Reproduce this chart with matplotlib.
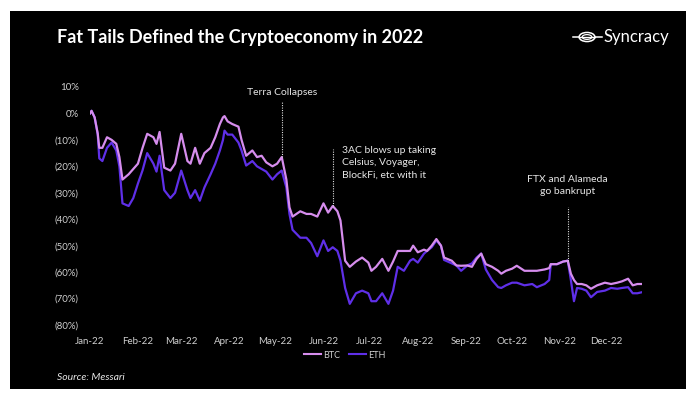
# plot.py

import pandas as pd
import matplotlib
matplotlib.use("Agg")
import matplotlib.pyplot as plt
from matplotlib.patches import Rectangle, Circle, Ellipse
from matplotlib.lines import Line2D


# ============================================================
# CONFIG
# ============================================================
W, H = 686, 396
DPI = 100
FONT = "Lato"
BTC_COLOR = "#d68ded"
ETH_COLOR = "#5f2fe8"
TEXT_COLOR = "#e6e6e6"
TICK_COLOR = "#cfcfcf"
DOT_STYLE = dict(color="#dddddd", lw=0.8, ls=(0, (1, 1.2)), zorder=5)


# ============================================================
# DATA (day of 2022, cumulative return in %)
# ============================================================
days = [0, 1, 3, 5, 6, 8, 11, 14, 17, 19, 21, 25, 28, 31, 34, 37, 41, 43, 45, 48,
        52, 55, 59, 63, 65, 68, 71, 74, 78, 81, 84, 86, 87, 89, 92, 96, 98, 101, 105, 108,
        111, 114, 118, 121, 124, 127, 129, 131, 136, 140, 143, 147, 151, 154, 157, 160, 162, 165, 168, 172,
        176, 180, 182, 185, 189, 193, 196, 199, 203, 207, 209, 212, 216, 218, 221, 224, 227, 229, 234, 237,
        240, 244, 247, 250, 253, 256, 260, 264, 266, 269, 273, 276, 281, 286, 289, 294, 297, 298, 302, 306,
        309, 311, 313, 315, 318, 321, 324, 328, 333, 337, 341, 344, 348, 351, 354, 357]

btc = [0, 1, -1.5, -7.6, -13, -13, -9, -10, -11.5, -16.5, -25, -23, -21, -19, -13, -7.7, -9, -11.5, -7, -20.5,
       -21.6, -19, -7.7, -18, -19, -13, -19, -15, -13, -9, -4, -1.5, -1, -3, -4, -5, -10, -16, -14, -16.5,
       -16, -18.5, -20, -19, -16.5, -25, -35.5, -39, -37, -38, -38, -39, -34, -37.5, -35, -37, -40.5, -55.7, -58, -56,
       -54.5, -56.4, -59.5, -58, -55, -59.5, -56, -52, -52, -52, -50, -52.5, -51.5, -52, -50, -47.5, -50, -54.5, -55.7, -57.5,
       -57.6, -57.5, -58, -55, -53, -57, -58, -59.5, -60.6, -59.5, -58.7, -57.6, -59.5, -59.5, -59.5, -59, -58.5, -57, -57, -56,
       -55.7, -60.6, -63, -64.5, -64.5, -65, -66.3, -65, -64, -64.5, -64, -63.5, -62.5, -65, -64.5, -64.5]

eth = [0, 1, -1.5, -8, -17, -18, -13, -11, -14, -20, -34, -35, -32, -26.5, -21.5, -15, -19, -22, -16, -29,
       -32, -30, -21.6, -29, -32, -29, -33, -28, -23, -19, -14, -10, -6.5, -8, -8, -11, -14, -19.7, -18, -20,
       -21, -22, -25, -23, -21.6, -28, -38, -44, -47, -47, -49, -54, -48, -52, -50.6, -52, -55.7, -66, -72, -68,
       -67, -68, -71, -71, -68, -72, -67, -58, -59.5, -55.7, -55, -56.4, -53, -52, -50.6, -48, -50, -55.4, -56.7, -57.5,
       -59.5, -57.5, -56.7, -54.5, -53, -59, -63, -65.7, -66, -65, -64, -64, -65, -64.5, -65.7, -64.5, -63, -57, -57, -56,
       -55.7, -63, -71, -66, -66.3, -67, -69.5, -67.5, -67, -66, -66.3, -66, -65.7, -68, -68, -67.6]

month_labels = ["Jan-22", "Feb-22", "Mar-22", "Apr-22", "May-22", "Jun-22",
                "Jul-22", "Aug-22", "Sep-22", "Oct-22", "Nov-22", "Dec-22"]
y_ticks = [10, 0, -10, -20, -30, -40, -50, -60, -70, -80]
y_labels = ["10%", "0%", "(10%)", "(20%)", "(30%)", "(40%)", "(50%)", "(60%)", "(70%)", "(80%)"]

terra_day, terra_val = "2022-05-05", -16.5
tac_day, tac_val = "2022-06-07", -35
ftx_day, ftx_val = "2022-11-06", -55.7


# ============================================================
# PREP
# ============================================================
start = pd.Timestamp("2022-01-01")
dates = start + pd.to_timedelta(days, unit="D")
month_starts = pd.date_range("2022-01-01", periods=12, freq="MS")

plt.rcParams["font.family"] = [FONT, "DejaVu Sans"]


# ============================================================
# FIGURE
# ============================================================
fig = plt.figure(figsize=(W / DPI, H / DPI), dpi=DPI, facecolor="white")

# black card behind everything
fig.patches.append(Rectangle((10 / W, 1 - 389 / H), 676 / W, 378 / H,
                             transform=fig.transFigure, facecolor="black",
                             edgecolor="none", zorder=-10))

ax = fig.add_axes([90 / W, 1 - 325 / H, 552 / W, 238 / H])
ax.set_zorder(2)
ax.set_facecolor("none")

ax.plot(dates, eth, color=ETH_COLOR, lw=1.6, label="ETH", zorder=3)
ax.plot(dates, btc, color=BTC_COLOR, lw=1.6, label="BTC", zorder=4)

ax.set_xlim(dates[0], dates[-1])
ax.set_ylim(-80, 10)

ax.set_xticks(month_starts)
ax.set_xticklabels(month_labels)
ax.set_yticks(y_ticks)
ax.set_yticklabels(y_labels)
ax.tick_params(axis="both", length=0, colors=TICK_COLOR, labelsize=7)
ax.tick_params(axis="x", pad=9)
ax.tick_params(axis="y", pad=8)
for s in ax.spines.values():
    s.set_visible(False)

# ----------------------------------------------------
# Event annotations
# ----------------------------------------------------
x = pd.Timestamp(terra_day)
ax.plot([x, x], [terra_val, 4.2], **DOT_STYLE)
ax.text(x, 6.3, "Terra Collapses", color=TEXT_COLOR, fontsize=7.5,
        ha="center", va="bottom")

x = pd.Timestamp(tac_day)
ax.plot([x, x], [tac_val, -13.3], **DOT_STYLE)
ax.text(x + pd.Timedelta(days=6), -12.2,
        "3AC blows up taking\nCelsius, Voyager,\nBlockFi, etc with it",
        color=TEXT_COLOR, fontsize=7.5, ha="left", va="top", linespacing=1.5)

x = pd.Timestamp(ftx_day)
ax.plot([x, x], [ftx_val, -35.2], **DOT_STYLE)
ax.text(x, -31.3, "FTX and Alameda\ngo bankrupt", color=TEXT_COLOR, fontsize=7.5,
        ha="center", va="bottom", linespacing=1.5)

# ----------------------------------------------------
# Legend (BTC first)
# ----------------------------------------------------
handles = [Line2D([], [], color=BTC_COLOR, lw=1.5), Line2D([], [], color=ETH_COLOR, lw=1.5)]
fig.legend(handles, ["BTC", "ETH"], loc="center", bbox_to_anchor=(345 / W, 1 - 355 / H),
           ncol=2, frameon=False, fontsize=6.5, labelcolor=TICK_COLOR,
           handlelength=1.8, handletextpad=0.3, columnspacing=1.0)

# ----------------------------------------------------
# Title, source, logo
# ----------------------------------------------------
fig.text(57 / W, 1 - 37 / H, "Fat Tails Defined the Cryptoeconomy in 2022",
         color="white", fontsize=13, fontweight="bold", ha="left", va="center")
fig.text(57 / W, 1 - 378 / H, "Source: Messari", color=TEXT_COLOR,
         fontsize=7.5, style="italic", ha="left", va="center")

lx, ly = 587, 37
fig.add_artist(Line2D([573 / W, 602 / W], [1 - ly / H, 1 - ly / H],
                      color="white", lw=1.1, transform=fig.transFigure))
fig.add_artist(Circle((lx / W, 1 - ly / H), 0.0115, transform=fig.transFigure,
                      facecolor="black", edgecolor="white", lw=1.1, zorder=3))
fig.add_artist(Ellipse((lx / W, 1 - ly / H), 0.014, 0.012, transform=fig.transFigure,
                       facecolor="none", edgecolor="white", lw=0.9, zorder=4))
fig.add_artist(Line2D([579 / W, 595 / W], [1 - ly / H, 1 - ly / H],
                      color="white", lw=1.0, transform=fig.transFigure, zorder=5))
fig.text(603 / W, 1 - ly / H, "Syncracy", color="white", fontsize=12,
         ha="left", va="center")

fig.savefig("out.png", dpi=DPI, facecolor="white")
